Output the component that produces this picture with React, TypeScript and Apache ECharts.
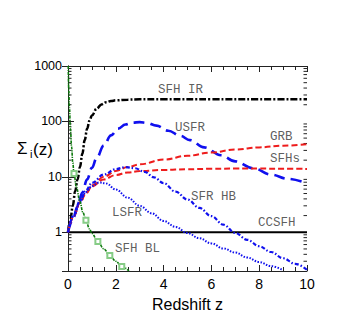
import React, { useEffect, useRef } from 'react';
import * as echarts from 'echarts';

// Curves: [redshift z, Sigma_i(z)]
const sfhIR: [number, number][] = [[0,1],[0.1,1.7],[0.2,3],[0.3,5.5],[0.4,9],[0.5,15],[0.6,26],[0.7,46],[0.8,74],[0.9,103],[1.0,128],[1.2,170],[1.4,203],[1.6,222],[1.8,233],[2.0,240],[2.5,247],[3,250],[4,251],[6,251],[8,251],[10,251]];
const usfr: [number, number][] = [[0,1],[0.2,1.7],[0.4,2.9],[0.6,5.2],[0.8,9],[1.0,14.5],[1.2,22],[1.5,37],[1.8,56],[2.1,74],[2.4,88],[2.7,95],[3.0,97],[3.3,94],[3.7,84],[4.2,68],[4.7,55],[5.1,46],[5.7,34],[6.4,24.5],[7.0,19],[7.75,14.3],[8.5,11],[9.2,9.2],[10,7.6]];
const grb: [number, number][] = [[0,1],[0.25,2],[0.5,3.5],[0.75,5.2],[1,7],[1.5,10],[2,12.8],[2.5,15],[3,16.8],[4,20.5],[5,24],[6,27.5],[7,31],[8,34],[9,36.5],[10,39]];
const sfhs: [number, number][] = [[0,1],[0.25,2],[0.5,3.4],[0.75,5],[1,6.7],[1.5,9],[2,10.8],[2.5,12],[3,12.7],[4,13.3],[5,13.7],[6,14],[7,14.1],[8,14.1],[9,14],[10,13.9]];
const sfrHB: [number, number][] = [[0,1],[0.25,2.1],[0.5,3.7],[0.75,5.7],[1,7.8],[1.5,11],[2,13.8],[2.4,15],[2.8,14.3],[3.2,12.3],[3.6,9.8],[4,7.7],[4.5,5.4],[5,3.9],[5.5,2.75],[6,1.95],[6.5,1.37],[7,0.97],[7.5,0.73],[8,0.56],[8.5,0.44],[9,0.34],[9.5,0.27],[10,0.21]];
const lsfr: [number, number][] = [[0,1],[0.25,2],[0.5,3.5],[0.75,5.3],[1,6.8],[1.3,7.9],[1.6,7.6],[2,5.9],[2.5,4.2],[3,3.0],[3.5,2.2],[4,1.6],[4.5,1.25],[5,0.97],[5.5,0.78],[6,0.63],[6.5,0.51],[7,0.43],[7.5,0.35],[8,0.29],[8.5,0.245],[9,0.205]];
const ccsfh: [number, number][] = [[0,1],[10,1]];
const sfhBL: [number, number][] = [[0.01,1000],[0.03,400],[0.06,180],[0.1,75],[0.15,35],[0.2,18],[0.25,11.5],[0.35,6.5],[0.5,3.6],[0.62,2.3],[0.75,1.65],[0.9,1.15],[1.0,0.95],[1.25,0.68],[1.5,0.5],[1.75,0.38],[2.0,0.3],[2.25,0.24],[2.55,0.2]];
const sfhBLMarkerZ = [0.25, 0.75, 1.25, 1.75, 2.25];

// In-plot curve labels
const labelTexts = ['SFH IR', 'USFR', 'GRB', 'SFHs', 'SFR HB', 'CCSFH', 'LSFR', 'SFH BL'];
const labelZ = [3.77, 4.48, 8.45, 8.45, 5.15, 7.95, 1.84, 1.97];
const labelV = [365, 75, 52, 21, 4.4, 1.49, 2.27, 0.49];

// Axis tick values
const yMajorTicks = [1, 10, 100, 1000];
const yMinorTicks = [0.3,0.4,0.5,0.6,0.7,0.8,0.9,2,3,4,5,6,7,8,9,20,30,40,50,60,70,80,90,200,300,400,500,600,700,800,900];

const AXIS_COLOR = '#222';

export default function App() {
  const ref = useRef<HTMLDivElement>(null);
  useEffect(() => {
    if (!ref.current) return;
    const chart = echarts.init(ref.current, null, { renderer: 'svg' });
    const baseX = {
      type: 'value', min: 0, max: 10, interval: 2,
      axisLine: { show: true, lineStyle: { color: AXIS_COLOR, width: 1 } },
      axisTick: { show: true, inside: true, length: 6, lineStyle: { color: AXIS_COLOR, width: 1 } },
      minorTick: { show: true, splitNumber: 4, length: 4, lineStyle: { color: AXIS_COLOR, width: 1 } },
      splitLine: { show: false },
    };
    const baseY = {
      type: 'log', logBase: 10, min: 0.2, max: 1000,
      axisLine: { show: true, lineStyle: { color: AXIS_COLOR, width: 1 } },
      axisTick: { show: true, inside: true, length: 6, lineStyle: { color: AXIS_COLOR, width: 1 } },
      splitLine: { show: false },
    };
    const lineSeries = (name: string, data: [number, number][], color: string, width: number, type: any) => ({
      name, type: 'line', data, showSymbol: false, smooth: 0.4, smoothMonotone: 'x',
      lineStyle: { color, width, type, cap: 'butt' }, z: 3,
    });
    const option: any = {
      animation: false,
      grid: { left: 68, right: 55, top: 66, bottom: 63 },
      xAxis: [
        { ...baseX, position: 'bottom',
          axisLabel: { show: true, fontSize: 14, color: '#000', fontFamily: 'Liberation Sans', margin: 6 },
          name: 'Redshift z', nameLocation: 'middle', nameGap: 25,
          nameTextStyle: { fontSize: 16, color: '#000', fontFamily: 'Liberation Sans' } },
        { ...baseX, position: 'top', axisLabel: { show: false } },
      ],
      yAxis: [
        { ...baseY, position: 'left',
          axisLabel: { show: true, fontSize: 12.5, color: '#000', fontFamily: 'Liberation Sans', margin: 6,
            formatter: (v: number) => yMajorTicks.some(t => Math.abs(t - v) / t < 1e-6) ? String(Math.round(v)) : '' } },
        { ...baseY, position: 'right', axisLabel: { show: false } },
      ],
      graphic: [
        { type: 'text', x: 17, y: 148, style: { text: 'Σ', fontSize: 17, fontFamily: 'Liberation Sans', fill: '#000', verticalAlign: 'middle', align: 'left' } },
        { type: 'text', x: 30, y: 154, style: { text: 'i', fontSize: 11, fontFamily: 'Liberation Sans', fill: '#000', verticalAlign: 'middle', align: 'left' } },
        { type: 'text', x: 33, y: 149, style: { text: '(z)', fontSize: 17, fontFamily: 'Liberation Sans', fill: '#000', verticalAlign: 'middle', align: 'left' } },
      ],
      series: [
        {
          type: 'custom', name: 'minorTicks', silent: true, clip: false, z: 1,
          data: yMinorTicks.map(v => [0, v]),
          renderItem: (params: any, api: any) => {
            const v = api.value(1);
            const l = api.coord([0, v]);
            const r = api.coord([10, v]);
            return {
              type: 'group',
              children: [
                { type: 'line', shape: { x1: l[0], y1: l[1], x2: l[0] + 3.5, y2: l[1] }, style: { stroke: AXIS_COLOR, lineWidth: 1 } },
                { type: 'line', shape: { x1: r[0] - 3.5, y1: r[1], x2: r[0], y2: r[1] }, style: { stroke: AXIS_COLOR, lineWidth: 1 } },
              ],
            };
          },
        },
        lineSeries('CCSFH', ccsfh, '#000', 2, 'solid'),
        lineSeries('SFH IR', sfhIR, '#000', 2.5, [7, 2, 2, 2]),
        lineSeries('USFR', usfr, '#1010ee', 2.6, [11, 6]),
        lineSeries('GRB', grb, '#ee1c1c', 2, [6, 3]),
        lineSeries('SFHs', sfhs, '#ee1c1c', 2, [6, 3]),
        lineSeries('SFR HB', sfrHB, '#1010ee', 2.2, [4, 2, 1.5, 2]),
        lineSeries('LSFR', lsfr, '#1010ee', 2, [1.5, 1.5]),
        {
          name: 'SFH BL', type: 'line', smooth: 0.4, smoothMonotone: 'x', showSymbol: true, showAllSymbol: true,
          symbol: 'none',
          data: sfhBL.map(p => sfhBLMarkerZ.includes(p[0])
            ? { value: p, symbol: 'emptyRect', symbolSize: 5 }
            : { value: p, symbol: 'none' }),
          lineStyle: { color: '#0c7a0c', width: 1.6, type: [3, 1, 1.2, 1] },
          itemStyle: { color: '#86cc86', borderColor: '#86cc86', borderWidth: 1 },
          z: 4,
        },
        {
          name: 'labels', type: 'scatter', symbolSize: 0, silent: true, z: 5,
          data: labelZ.map((z, i) => ({ value: [z, labelV[i]], label: { formatter: labelTexts[i] } })),
          label: { show: true, position: 'right', distance: 0, fontSize: 12.5, fontFamily: 'Liberation Mono', color: '#333' },
        },
      ],
    };
    chart.setOption(option);
    return () => chart.dispose();
  }, []);
  return <div ref={ref} style={{ position: 'fixed', left: 0, top: 0, width: 362, height: 334, background: '#fff' }} />;
}
